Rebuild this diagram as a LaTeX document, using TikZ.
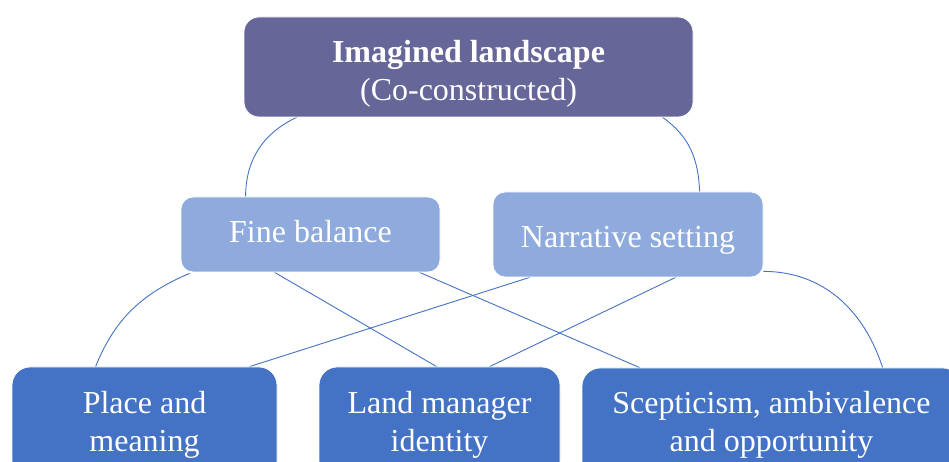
\documentclass[tikz,border=0pt]{standalone}
\usepackage{fontspec}
\setmainfont{Liberation Serif}
\definecolor{topc}{RGB}{102,102,153}
\definecolor{midc}{RGB}{143,170,220}
\definecolor{botc}{RGB}{68,114,196}
\definecolor{linec}{RGB}{68,114,196}
\pgfdeclarelayer{bg}
\pgfsetlayers{bg,main}
\tikzset{
  boxbase/.style={draw=white, line width=0.8pt, inner sep=0pt},
  topbox/.style={boxbase, fill=topc, rounded corners=15pt},
  midbox/.style={boxbase, fill=midc, rounded corners=12pt},
  botbox/.style={boxbase, fill=botc, rounded corners=18pt},
  conn/.style={draw=linec, line width=0.9pt},
  lbl/.style={text=white, align=center, inner sep=0pt, font=\fontsize{32}{38}\selectfont}
}
\begin{document}
\begin{tikzpicture}[x=1pt,y=1pt]
\useasboundingbox (0,0) rectangle (949,462);
\node[topbox, minimum width=449pt, minimum height=100pt] (top) at (468.5,395) {};
\node[midbox, minimum width=259pt, minimum height=75pt] (fine) at (310.5,227.5) {};
\node[midbox, minimum width=270pt, minimum height=85pt] (narr) at (628,227.5) {};
\node[botbox, minimum width=265pt, minimum height=112pt] (place) at (144.5,39) {};
\node[botbox, minimum width=241pt, minimum height=112pt] (land) at (439.5,39) {};
\node[botbox, minimum width=379pt, minimum height=112pt] (scep) at (771.5,38) {};

\node[lbl] (toptxt) at ([yshift=-7pt]top.center) {\textbf{Imagined landscape}\\(Co-constructed)};
\node[lbl] (finetxt) at ([yshift=3pt]fine.center) {Fine balance};
\node[lbl] (narrtxt) at ([yshift=-6pt]narr.center) {Narrative setting};
\node[lbl] (placetxt) at ([yshift=-2pt]place.center) {Place and\\meaning};
\node[lbl] (landtxt) at ([yshift=-2pt]land.center) {Land manager\\identity};
\node[lbl] (sceptxt) at ([yshift=-1pt]scep.center) {Scepticism, ambivalence\\and opportunity};

\begin{pgfonlayer}{bg}
\fill[white] (0,0) rectangle (949,462);
\draw[conn] ([xshift=53pt]top.south west) to[out=205,in=90] ([xshift=65pt]fine.north west);
\draw[conn] ([xshift=419pt]top.south west) to[out=-35,in=92] ([xshift=207pt]narr.north west);
\draw[conn] ([xshift=9pt,yshift=-1pt]fine.south west) to[out=203,in=68] ([xshift=84pt]place.north west);
\draw[conn] ([yshift=6pt]narr.south east) to[out=0,in=108] ([xshift=301pt]scep.north west);
\draw[conn] ([xshift=94pt]fine.south west) -- ([xshift=118pt]land.north west);
\draw[conn] ([xshift=239pt]fine.south west) -- ([xshift=58pt]scep.north west);
\draw[conn] ([xshift=37pt]narr.south west) -- ([xshift=238pt]place.north west);
\draw[conn] ([xshift=183pt]narr.south west) -- ([xshift=171pt]land.north west);
\end{pgfonlayer}
\end{tikzpicture}
\end{document}
